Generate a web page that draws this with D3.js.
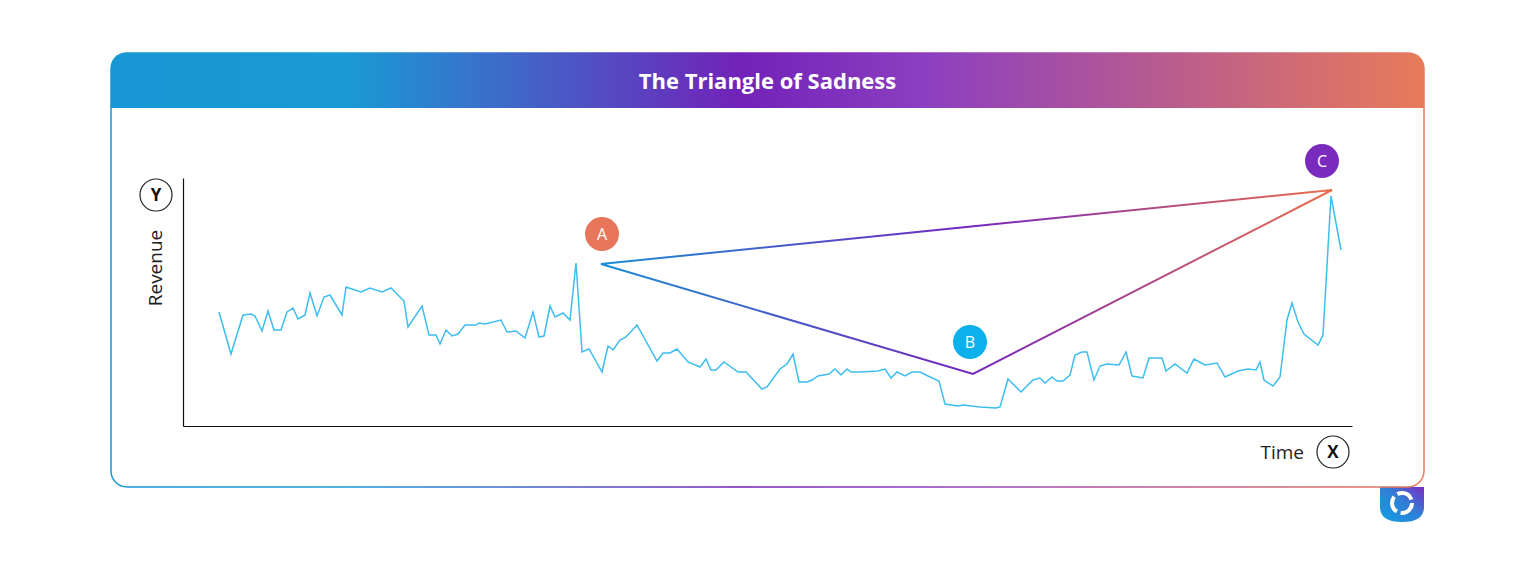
<!DOCTYPE html>
<html>
<head>
<meta charset="utf-8">
<script src="https://cdn.jsdelivr.net/npm/d3@7"></script>
<style>
  body { margin: 0; background: #fff; }
  text { font-family: "Open Sans", Inter, sans-serif; }
</style>
</head>
<body>
<div class="chart"></div>
<script>
const width = 1536
const height = 562

// Revenue series (day index, revenue units)
const days = [36,48,60,68,72,79,85,91,98,104,110,115,122,127,134,141,147,159,163,178,187,199,208,221,225,239,246,253,257,263,269,275,282,293,296,302,318,324,333,342,350,356,361,367,372,380,387,393,399,406,419,425,430,437,443,454,474,480,487,494,505,517,523,528,533,541,555,563,579,584,597,604,610,616,624,629,635,646,652,658,664,668,677,695,702,708,714,722,729,737,745,756,762,775,780,797,813,817,825,838,850,857,862,869,874,880,887,892,899,904,911,917,924,936,943,949,960,966,979,983,992,1004,1011,1022,1034,1042,1055,1065,1073,1077,1081,1090,1097,1104,1109,1115,1121,1135,1140,1148,1158,1165]
const revenue = [114,72,111,112,110,95,115,96,96,114,118,107,111,133,110,129,131,111,139,134,138,134,138,125,99,120,91,91,82,96,90,92,101,101,103,102,106,94,95,88,114,89,90,120,109,113,106,163,74,77,54,80,76,86,89,101,65,73,73,77,64,59,67,56,56,64,54,54,37,39,57,62,72,44,44,46,50,52,57,51,57,54,54,55,57,48,54,50,54,54,50,45,22,20,21,19,18,19,47,34,46,48,43,49,45,45,51,71,74,74,46,60,62,61,74,50,48,68,68,55,62,53,67,61,63,49,55,57,56,64,46,40,49,106,123,104,92,81,91,230,176]

// Triangle vertices (day, revenue)
const triLabels = ["A", "B", "C"]
const triDays = [418, 790, 1149]
const triRevenue = [162, 52, 236]
const triColors = ["#e8765a", "#0cb0ea", "#7a2bbd"]

const svg = d3.select('.chart')
  .append('svg')
  .attr('width', width)
  .attr('height', height)

const defs = svg.append("defs")
const hdr = defs.append("linearGradient").attr("id", "hdr")
hdr.append("stop").attr("offset", "0%").attr("stop-color", "#1797d3")
hdr.append("stop").attr("offset", "18%").attr("stop-color", "#1a9ad4")
hdr.append("stop").attr("offset", "48%").attr("stop-color", "#7222b8")
hdr.append("stop").attr("offset", "62%").attr("stop-color", "#8c3fc0")
hdr.append("stop").attr("offset", "100%").attr("stop-color", "#e87b5a")

const tri = defs.append("linearGradient").attr("id", "tri")
  .attr("gradientUnits", "userSpaceOnUse")
  .attr("x1", 601).attr("x2", 1332).attr("y1", 0).attr("y2", 0)
tri.append("stop").attr("offset", "0%").attr("stop-color", "#1a8fd6")
tri.append("stop").attr("offset", "50%").attr("stop-color", "#7426bd")
tri.append("stop").attr("offset", "100%").attr("stop-color", "#ea6e4e")

const logo = defs.append("linearGradient").attr("id", "logo")
  .attr("x1", 0).attr("y1", 1).attr("x2", 1).attr("y2", 0)
logo.append("stop").attr("offset", "0%").attr("stop-color", "#12a0e0")
logo.append("stop").attr("offset", "55%").attr("stop-color", "#2f7fd6")
logo.append("stop").attr("offset", "100%").attr("stop-color", "#7d2bc0")

// Card
const cx = 111, cy = 53, cw = 1313, ch = 434, r = 16
svg.append("path")
  .attr("d", `M${cx+cw-44},${cy+ch} L${cx+cw-44},${cy+ch+20} Q${cx+cw-44},${cy+ch+35} ${cx+cw-22},${cy+ch+35} Q${cx+cw},${cy+ch+35} ${cx+cw},${cy+ch+20} L${cx+cw},${cy+ch} Z`)
  .attr("fill", "url(#logo)")
svg.append("rect")
  .attr("x", cx).attr("y", cy).attr("width", cw).attr("height", ch)
  .attr("rx", r).attr("fill", "#fff")
  .attr("stroke", "url(#hdr)").attr("stroke-width", 1.5)
svg.append("path")
  .attr("d", `M${cx},${cy+55} L${cx},${cy+r} Q${cx},${cy} ${cx+r},${cy} L${cx+cw-r},${cy} Q${cx+cw},${cy} ${cx+cw},${cy+r} L${cx+cw},${cy+55} Z`)
  .attr("fill", "url(#hdr)")
svg.append("text")
  .attr("x", cx + cw / 2).attr("y", cy + 36)
  .attr("text-anchor", "middle").attr("fill", "#fff")
  .attr("font-size", "22px").attr("font-weight", 700)
  .text("The Triangle of Sadness")

// logo icon
const lg = svg.append("g").attr("transform", `translate(${cx+cw-22},${cy+ch+16})`)
lg.append("circle").attr("r", 10).attr("fill", "none").attr("stroke", "#fff").attr("stroke-width", 4)
  .attr("stroke-dasharray", "17 4")

// Scales
const x = d3.scaleLinear().domain([0, 1169]).range([183, 1352])
const y = d3.scaleLinear().domain([0, 248]).range([426, 178])

// Axes (bare lines)
svg.append("g").attr("transform", "translate(0,426)")
  .call(d3.axisBottom(x).ticks(0).tickSize(0).tickFormat(""))
  .select(".domain").attr("stroke", "#111").attr("stroke-width", 1.2)
svg.append("g").attr("transform", "translate(183,0)")
  .call(d3.axisLeft(y).ticks(0).tickSize(0).tickFormat(""))
  .select(".domain").attr("stroke", "#111").attr("stroke-width", 1.2)

// Axis badges
function badge(px, py, label) {
  svg.append("circle").attr("cx", px).attr("cy", py).attr("r", 16)
    .attr("fill", "#fff").attr("stroke", "#222").attr("stroke-width", 1.2)
  svg.append("text").attr("x", px).attr("y", py + 6).attr("text-anchor", "middle")
    .attr("font-size", "17px").attr("font-weight", 700).attr("fill", "#111").text(label)
}
badge(156, 195, "Y")
badge(1333, 452, "X")
svg.append("text")
  .attr("transform", "translate(162,268) rotate(-90)")
  .attr("text-anchor", "middle").attr("font-size", "19px").attr("fill", "#222")
  .text("Revenue")
svg.append("text")
  .attr("x", 1304).attr("y", 459).attr("text-anchor", "end")
  .attr("font-size", "19px").attr("fill", "#222").text("Time")

// Revenue line
const series = days.map((d, i) => [d, revenue[i]])
svg.append("path")
  .datum(series)
  .attr("fill", "none").attr("stroke", "#3dbdf0").attr("stroke-width", 1.5)
  .attr("d", d3.line().x(d => x(d[0])).y(d => y(d[1])))

// Triangle
const triPts = triDays.map((d, i) => [d, triRevenue[i]])
svg.append("path")
  .datum(triPts)
  .attr("fill", "none").attr("stroke", "url(#tri)").attr("stroke-width", 2)
  .attr("d", d3.line().x(d => x(d[0])).y(d => y(d[1])).curve(d3.curveLinearClosed))

const offsets = [[1, -30], [-3, -32], [-10, -29]]
triLabels.forEach((l, i) => {
  const px = x(triDays[i]) + offsets[i][0], py = y(triRevenue[i]) + offsets[i][1]
  svg.append("circle").attr("cx", px).attr("cy", py).attr("r", 17).attr("fill", triColors[i])
  svg.append("text").attr("x", px).attr("y", py + 6).attr("text-anchor", "middle")
    .attr("fill", "#fff").attr("font-size", "16px").text(l)
})
</script>
</body>
</html>
